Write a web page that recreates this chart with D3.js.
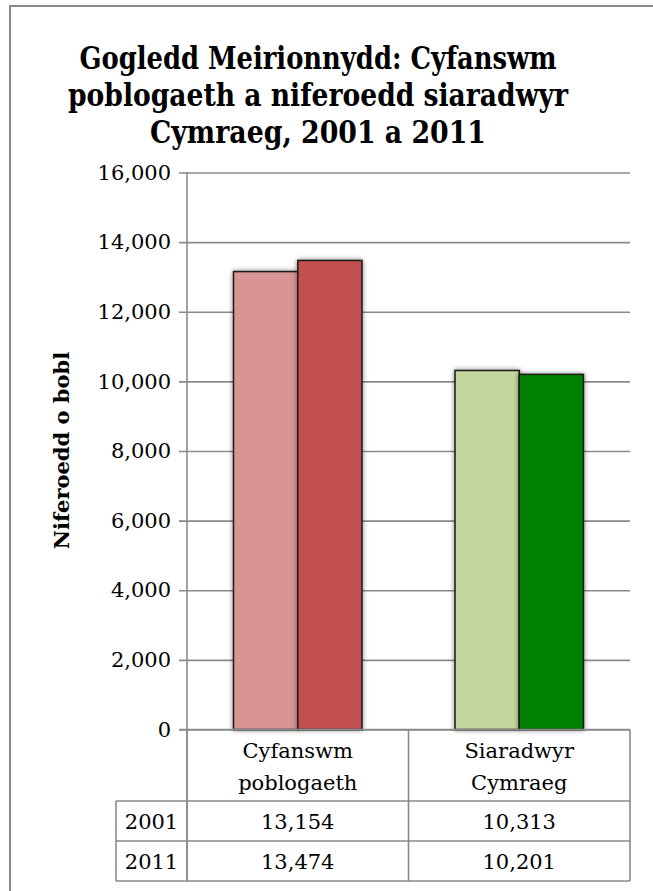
<!DOCTYPE html>
<html>
<head>
<meta charset="utf-8">
<script src="https://cdn.jsdelivr.net/npm/d3@7"></script>
<style>
  html, body { margin: 0; padding: 0; background: #fff; }
  svg { display: block; }
</style>
</head>
<body>
<svg id="chart" width="653" height="891"></svg>
<script>
// ---- data ----
const categories = ["Cyfanswm poblogaeth", "Siaradwyr Cymraeg"];
const categoryLines = [["Cyfanswm", "poblogaeth"], ["Siaradwyr", "Cymraeg"]];
const years = ["2001", "2011"];
const values2001 = [13154, 10313];
const values2011 = [13474, 10201];
const yTicks = [0, 2000, 4000, 6000, 8000, 10000, 12000, 14000, 16000];
const titleLines = ["Gogledd Meirionnydd: Cyfanswm", "poblogaeth a niferoedd siaradwyr", "Cymraeg, 2001 a 2011"];
const yAxisTitle = "Niferoedd o bobl";
const colors = [["#d99594", "#c0504d"], ["#c3d69b", "#008000"]];

const svg = d3.select("#chart");
const serif = "'DejaVu Serif', 'Liberation Serif', serif";
const gridColor = "#8a8a8a";

// drop-shadow filter
const defs = svg.append("defs");
const f = defs.append("filter").attr("id", "shadow").attr("x", "-20%").attr("y", "-20%").attr("width", "140%").attr("height", "140%");
f.append("feGaussianBlur").attr("in", "SourceAlpha").attr("stdDeviation", 2.5).attr("result", "b");
f.append("feComponentTransfer").attr("in", "b").attr("result", "b2")
  .append("feFuncA").attr("type", "linear").attr("slope", 0.5);
const m = f.append("feMerge");
m.append("feMergeNode").attr("in", "b2");
m.append("feMergeNode").attr("in", "SourceGraphic");

// outer border
svg.append("rect").attr("x", 10).attr("y", 6).attr("width", 700).attr("height", 950)
  .attr("fill", "none").attr("stroke", "#8a8a8a").attr("stroke-width", 2);

// title
const titleWidths = [477, 500, 336];
svg.append("g").selectAll("text").data(titleLines).join("text")
  .attr("x", 318).attr("y", (d, i) => 69 + i * 37)
  .attr("text-anchor", "middle")
  .attr("font-family", "'DejaVu Serif Condensed', 'DejaVu Serif', serif")
  .attr("font-stretch", "condensed")
  .attr("font-weight", "bold").attr("font-size", 31)
  .attr("textLength", (d, i) => titleWidths[i])
  .attr("lengthAdjust", "spacingAndGlyphs")
  .text(d => d);

// scales
const plotLeft = 187, plotRight = 630;
const y = d3.scaleLinear().domain([0, 16000]).range([729.5, 172.5]);
const x0 = d3.scaleBand().domain(categories).range([plotLeft, plotRight]).paddingInner(0).paddingOuter(0);
const groupW = x0.bandwidth() * 0.58;
const x1 = d3.scaleBand().domain(years).range([0, groupW]).padding(0);

// gridlines + ticks
const yAxis = d3.axisLeft(y).tickValues(yTicks).tickSize(-(plotRight - plotLeft)).tickFormat(d3.format(","))
  .tickPadding(16);
const gA = svg.append("g").attr("transform", `translate(${plotLeft},0)`).call(yAxis);
gA.select(".domain").remove();
gA.selectAll(".tick line").attr("stroke", gridColor).attr("stroke-width", 1.6).attr("x1", -8);
gA.selectAll(".tick text").attr("font-family", serif).attr("font-size", 21).attr("fill", "#000");

// y-axis line extending through table header
svg.append("line").attr("x1", plotLeft).attr("x2", plotLeft).attr("y1", 172).attr("y2", 881)
  .attr("stroke", gridColor).attr("stroke-width", 1.6);

// y axis title
svg.append("text")
  .attr("transform", `translate(69,${(172 + 729) / 2}) rotate(-90)`)
  .attr("text-anchor", "middle")
  .attr("font-family", serif).attr("font-weight", "bold").attr("font-size", 21)
  .text(yAxisTitle);

// bars
const rows = categories.map((c, i) => ({ cat: c, ci: i, vals: [values2001[i], values2011[i]] }));
const gBars = svg.append("g");
rows.forEach(r => {
  const off = x0(r.cat) + (x0.bandwidth() - groupW) / 2;
  gBars.append("g").selectAll("rect").data(years).join("rect")
    .attr("x", (yr) => off + x1(yr))
    .attr("y", (yr, j) => y(r.vals[j]))
    .attr("width", x1.bandwidth())
    .attr("height", (yr, j) => y(0) - y(r.vals[j]))
    .attr("fill", (yr, j) => colors[r.ci][j])
    .attr("stroke", "#1a1a1a").attr("stroke-width", 1.5)
    .attr("filter", "url(#shadow)");
});

// zero line on top
svg.append("line").attr("x1", plotLeft - 8).attr("x2", plotRight).attr("y1", y(0)).attr("y2", y(0))
  .attr("stroke", gridColor).attr("stroke-width", 1.6);

// data table
const tableLeft = 116, rowY = [729.5, 801, 841, 881];
const tg = svg.append("g").attr("stroke", gridColor).attr("stroke-width", 1.6);
[plotLeft, x0(categories[1]), plotRight].forEach(xx => {
  tg.append("line").attr("x1", xx).attr("x2", xx).attr("y1", rowY[0]).attr("y2", rowY[3]);
});
tg.append("line").attr("x1", tableLeft).attr("x2", tableLeft).attr("y1", rowY[1]).attr("y2", rowY[3]);
[rowY[1], rowY[2], rowY[3]].forEach(yy => {
  tg.append("line").attr("x1", tableLeft).attr("x2", plotRight).attr("y1", yy).attr("y2", yy);
});

// category header labels
categories.forEach((c, i) => {
  svg.append("g").selectAll("text").data(categoryLines[i]).join("text")
    .attr("x", x0(c) + x0.bandwidth() / 2)
    .attr("y", (d, k) => 758 + k * 32)
    .attr("text-anchor", "middle")
    .attr("font-family", serif).attr("font-size", 21)
    .text(d => d);
});

// row labels + values
const fmt = d3.format(",");
const tableVals = [values2001, values2011];
years.forEach((yr, j) => {
  const cy = (rowY[j + 1] + rowY[j + 2]) / 2 + 7.5;
  svg.append("text").attr("x", (tableLeft + plotLeft) / 2).attr("y", cy)
    .attr("text-anchor", "middle").attr("font-family", serif).attr("font-size", 21).text(yr);
  categories.forEach((c, i) => {
    svg.append("text").attr("x", x0(c) + x0.bandwidth() / 2).attr("y", cy)
      .attr("text-anchor", "middle").attr("font-family", serif).attr("font-size", 21)
      .text(fmt(tableVals[j][i]));
  });
});
</script>
</body>
</html>
